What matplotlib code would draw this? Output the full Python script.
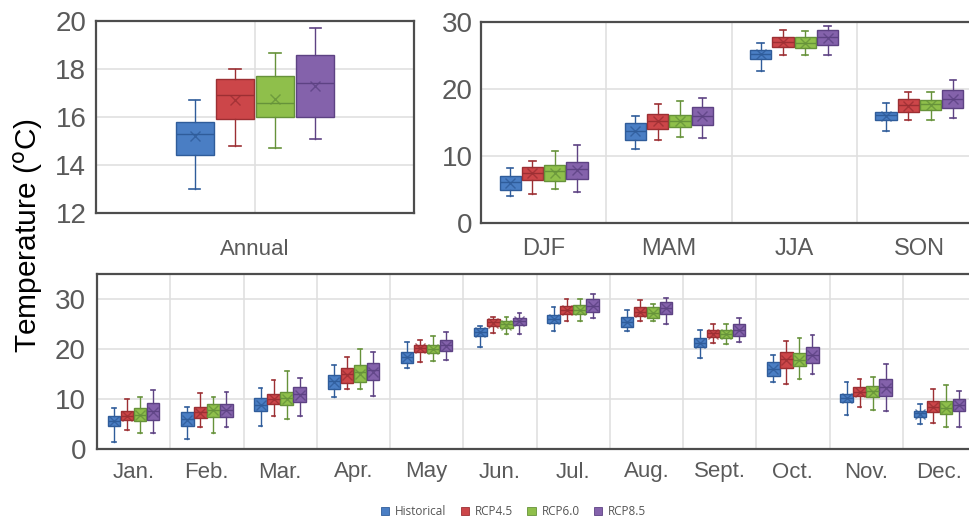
import matplotlib
matplotlib.use("Agg")
import matplotlib.pyplot as plt
from matplotlib.patches import Patch
import numpy as np

plt.rcParams['font.family'] = ['Liberation Sans', 'DejaVu Sans']

series = ['Historical', 'RCP4.5', 'RCP6.0', 'RCP8.5']
face_colors = ['#4a7ec4', '#cc4649', '#8fbf4b', '#8462ab']
edge_colors = ['#2f5c9a', '#9c2f33', '#66923a', '#5d4283']

# annual: one value per series
annual_lo = [13.0, 14.8, 14.7, 15.1]
annual_q1 = [14.4, 15.9, 16.0, 16.0]
annual_med = [15.3, 16.9, 16.6, 17.4]
annual_q3 = [15.8, 17.6, 17.7, 18.6]
annual_hi = [16.7, 18.0, 18.65, 19.7]
annual_mean = [15.2, 16.7, 16.75, 17.3]

# seasons: rows = series, columns = seasons
seasons = ['DJF', 'MAM', 'JJA', 'SON']
season_lo = [[4.0, 11.0, 22.7, 13.7],
             [4.4, 12.4, 25.1, 15.3],
             [5.1, 12.9, 25.1, 15.3],
             [4.7, 12.75, 25.1, 15.7]]
season_q1 = [[5.0, 12.4, 24.5, 15.3],
             [6.4, 14.1, 26.3, 16.5],
             [6.2, 14.35, 26.1, 16.8],
             [6.55, 14.6, 26.5, 17.2]]
season_med = [[6.1, 13.8, 25.2, 16.1],
              [7.45, 15.25, 27.0, 17.6],
              [7.7, 15.25, 26.9, 17.7],
              [8.05, 15.9, 27.7, 18.5]]
season_q3 = [[7.0, 15.0, 25.8, 16.6],
             [8.4, 16.3, 27.75, 18.5],
             [8.7, 16.1, 27.7, 18.4],
             [9.05, 17.3, 28.75, 19.9]]
season_hi = [[8.25, 15.9, 26.9, 17.9],
             [9.3, 17.8, 28.75, 19.5],
             [10.8, 18.2, 28.6, 19.5],
             [11.7, 18.7, 29.45, 21.4]]
season_mean = [[6.0, 13.7, 25.2, 16.0],
               [7.4, 15.2, 27.0, 17.5],
               [7.5, 15.2, 26.9, 17.6],
               [7.9, 15.9, 27.6, 18.5]]

# months: rows = series, columns = months
months = ['Jan.', 'Feb.', 'Mar.', 'Apr.', 'May', 'Jun.', 'Jul.', 'Aug.',
          'Sept.', 'Oct.', 'Nov.', 'Dec.']
month_lo = [[1.5, 2.1, 4.6, 10.5, 16.2, 20.4, 23.7, 23.7, 18.3, 13.4, 6.8, 5.0],
            [3.9, 4.4, 6.6, 12.0, 17.4, 23.15, 25.6, 25.6, 21.3, 13.0, 8.4, 5.2],
            [3.3, 3.3, 6.0, 12.0, 17.6, 22.95, 25.6, 25.6, 21.1, 13.95, 7.85, 4.35],
            [3.3, 4.35, 6.7, 10.65, 17.9, 23.0, 26.15, 25.05, 21.35, 15.1, 7.65, 4.35]]
month_q1 = [[4.6, 4.6, 7.6, 12.1, 17.2, 22.55, 25.3, 24.4, 20.5, 14.6, 9.5, 6.5],
            [5.85, 6.25, 9.05, 13.2, 19.5, 24.6, 27.0, 26.6, 22.35, 16.3, 10.6, 7.4],
            [5.6, 6.5, 8.8, 13.4, 19.3, 24.15, 27.0, 26.25, 22.15, 16.65, 10.45, 7.0],
            [5.85, 6.5, 9.45, 13.9, 19.55, 24.85, 27.45, 27.1, 22.55, 17.25, 10.65, 7.7]]
month_med = [[5.7, 6.0, 8.9, 13.6, 18.5, 23.4, 26.1, 25.4, 21.3, 16.1, 10.3, 7.25],
             [6.7, 7.4, 10.1, 15.1, 20.3, 25.4, 27.9, 27.5, 23.15, 18.0, 11.5, 8.5],
             [6.85, 7.9, 10.2, 15.45, 20.05, 25.05, 27.9, 27.3, 23.0, 17.9, 11.55, 8.25],
             [7.7, 7.85, 10.95, 15.9, 20.8, 25.65, 28.7, 28.25, 23.9, 18.8, 12.35, 8.85]]
month_q3 = [[6.7, 7.45, 10.2, 14.9, 19.5, 24.2, 26.85, 26.4, 22.15, 17.4, 11.1, 7.7],
            [7.6, 8.4, 11.1, 16.25, 20.9, 25.95, 28.65, 28.45, 23.8, 19.5, 12.5, 9.65],
            [8.2, 9.05, 11.4, 16.8, 20.8, 25.65, 28.85, 28.45, 23.8, 19.25, 12.55, 9.55],
            [9.15, 9.05, 12.35, 17.2, 21.9, 26.3, 30.0, 29.35, 25.1, 20.45, 13.95, 9.95]]
month_hi = [[8.2, 8.4, 12.3, 16.85, 21.4, 24.7, 28.4, 27.8, 23.8, 18.9, 13.5, 9.05],
            [10.0, 11.2, 13.75, 18.45, 21.9, 26.5, 30.05, 29.85, 25.1, 21.6, 13.95, 12.1],
            [10.45, 10.45, 15.65, 20.0, 22.6, 26.5, 30.05, 28.95, 24.95, 22.15, 14.45, 12.9],
            [11.9, 11.4, 14.15, 19.35, 23.5, 27.25, 30.95, 30.25, 26.3, 22.75, 17.0, 11.6]]
month_mean = [[5.6, 5.9, 8.9, 13.5, 18.4, 23.4, 26.1, 25.4, 21.3, 16.0, 10.3, 7.1],
              [6.7, 7.3, 10.1, 14.8, 20.2, 25.3, 27.8, 27.5, 23.1, 17.9, 11.5, 8.5],
              [6.9, 7.8, 10.1, 15.1, 20.0, 24.9, 27.9, 27.3, 23.0, 17.9, 11.5, 8.3],
              [7.5, 7.8, 10.9, 15.5, 20.7, 25.6, 28.7, 28.2, 23.8, 18.8, 12.3, 8.8]]

TICK_COLOR = '#5a5a5a'


def draw_boxes(ax, lo, q1, med, q3, hi, mean, spacing, width):
    ncat = len(lo[0])
    for j in range(len(series)):
        stats = []
        for i in range(ncat):
            stats.append(dict(whislo=lo[j][i], q1=q1[j][i], med=med[j][i],
                              q3=q3[j][i], whishi=hi[j][i], mean=mean[j][i],
                              fliers=[]))
        pos = np.arange(ncat) + (j - 1.5) * spacing
        ec = edge_colors[j]
        ax.bxp(stats, positions=pos, widths=width, patch_artist=True,
               showmeans=True, manage_ticks=False, capwidths=width * 0.3,
               boxprops=dict(facecolor=face_colors[j], edgecolor=ec, linewidth=1),
               whiskerprops=dict(color=ec, linewidth=1),
               capprops=dict(color=ec, linewidth=1.2),
               medianprops=dict(color=ec, linewidth=1),
               meanprops=dict(marker='x', markeredgecolor=ec, markersize=7,
                              markeredgewidth=1, alpha=0.8))


def style_axes(ax, right_spine=True):
    for side, sp in ax.spines.items():
        sp.set_color('#4d4d4d')
        sp.set_linewidth(1.6)
    if not right_spine:
        ax.spines['right'].set_visible(False)
    ax.tick_params(length=0, colors=TICK_COLOR)
    ax.grid(True, color='#e0e0e0', linewidth=1.2)
    ax.set_axisbelow(True)


fig = plt.figure(figsize=(9.69, 5.21), dpi=100)

# annual panel
ax1 = fig.add_axes([96 / 969, 1 - 213 / 521, 318 / 969, 192 / 521])
draw_boxes(ax1, [[v] for v in annual_lo], [[v] for v in annual_q1],
           [[v] for v in annual_med], [[v] for v in annual_q3],
           [[v] for v in annual_hi], [[v] for v in annual_mean], 0.126, 0.117)
ax1.set_xlim(-0.5, 0.5)
ax1.set_ylim(12, 20)
ax1.set_yticks([12, 14, 16, 18, 20])
ax1.set_xticks([0])
ax1.set_xticklabels(['Annual'])
style_axes(ax1)
ax1.tick_params(axis='y', labelsize=20, pad=7)
ax1.tick_params(axis='x', labelsize=16, pad=19)

# seasonal panel
ax2 = fig.add_axes([481 / 969, 1 - 223 / 521, 501 / 969, 201 / 521])
draw_boxes(ax2, season_lo, season_q1, season_med, season_q3, season_hi,
           season_mean, 0.178, 0.17)
ax2.set_xlim(-0.5, len(seasons) - 0.5)
ax2.set_ylim(0, 30)
ax2.set_yticks([0, 10, 20, 30])
ax2.set_xticks(np.arange(len(seasons)))
ax2.set_xticklabels(seasons)
ax2.set_xticks(np.arange(len(seasons) - 1) + 0.5, minor=True)
style_axes(ax2, right_spine=False)
ax2.grid(False, axis='x', which='major')
ax2.grid(True, axis='x', which='minor', color='#e0e0e0', linewidth=1.2)
ax2.tick_params(which='minor', length=0)
ax2.tick_params(axis='y', labelsize=20, pad=6)
ax2.tick_params(axis='x', labelsize=17, pad=11)

# monthly panel
ax3 = fig.add_axes([97 / 969, 1 - 449 / 521, 879 / 969, 175 / 521])
draw_boxes(ax3, month_lo, month_q1, month_med, month_q3, month_hi,
           month_mean, 0.178, 0.17)
ax3.set_xlim(-0.5, len(months) - 0.5)
ax3.set_ylim(0, 35)
ax3.set_yticks([0, 10, 20, 30])
ax3.set_xticks(np.arange(len(months)))
ax3.set_xticklabels(months)
ax3.set_xticks(np.arange(len(months) - 1) + 0.5, minor=True)
style_axes(ax3, right_spine=False)
ax3.grid(False, axis='x', which='major')
ax3.grid(True, axis='x', which='minor', color='#e0e0e0', linewidth=1.2)
ax3.tick_params(which='minor', length=0)
ax3.tick_params(axis='y', labelsize=20, pad=8)
ax3.tick_params(axis='x', labelsize=16, pad=9)

fig.text(0.029, 1 - 236 / 521, r'Temperature ($^{\mathrm{o}}$C)', rotation=90,
         ha='center', va='center', fontsize=21.5, color='black')

handles = [Patch(facecolor=c, edgecolor=e, linewidth=0.6)
           for c, e in zip(face_colors, edge_colors)]
fig.legend(handles, series, loc='center', bbox_to_anchor=(0.53, 0.018),
           ncol=4, frameon=False, handlelength=0.7, handleheight=0.7,
           handletextpad=0.5, columnspacing=1.2,
           prop={'family': 'Open Sans', 'size': 8.5}, labelcolor='#555555')

fig.savefig('out.png', dpi=100)
